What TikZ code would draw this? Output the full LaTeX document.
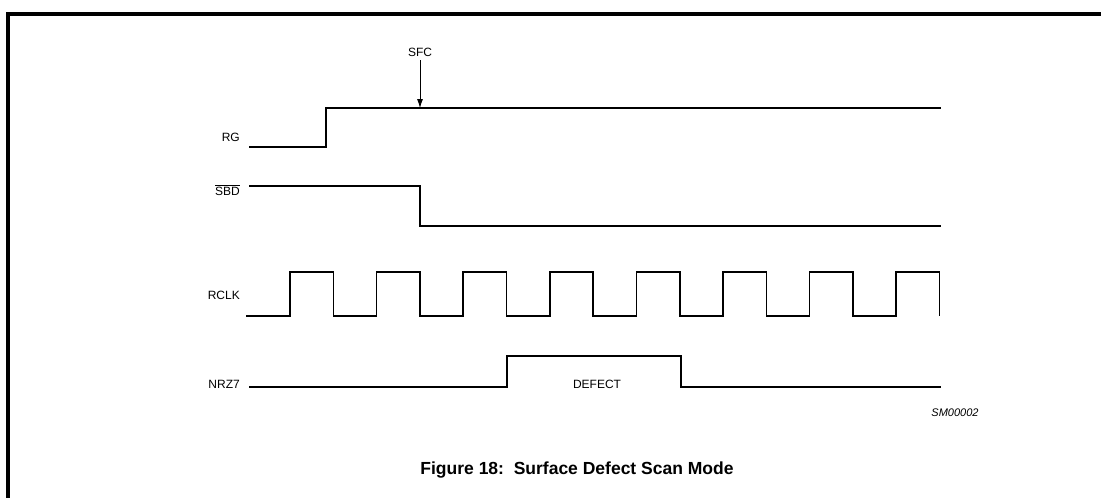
\documentclass[tikz,border=0pt]{standalone}
\usepackage{fontspec}
\setmainfont{Liberation Sans}
\usetikzlibrary{arrows.meta}

\begin{document}
\begin{tikzpicture}[x=1pt,y=-1pt,
		signal/.style={line width=1.6pt},
		siglabel/.style={anchor=east,font=\fontsize{12}{14}\selectfont,inner sep=0pt}]
		\useasboundingbox (0,0) rectangle (1101,498);
		%frame
		\draw[line width=4pt] (8,498) -- (8,14) -- (1101,14);
		%labels
		\node[siglabel] (rg) at (240,137) {RG};
		\node[siglabel] (sbd) at (240,190) {$\overline{\mbox{SBD}}$};
		\node[siglabel] (rclk) at (240,295) {RCLK};
		\node[siglabel] (nrz) at (240,384) {NRZ7};
		%RG
		\draw[signal] (249,147) -- (326,147) -- (326,108) -- (941,108);
		%SFC marker
		\node[font=\fontsize{12}{14}\selectfont,inner sep=0pt] (sfc) at (420,52) {SFC};
		\coordinate (sfcpt) at (420,108);
		\draw[line width=0.8pt,-{Latex[length=9pt,width=6pt]}] ([yshift=-4pt]sfc.south) -- (sfcpt);
		%SBD
		\draw[signal] (249,186) -- (420,186) -- (420,226) -- (941,226);
		%RCLK
		\draw[signal] (246,316) \foreach \i in {0,...,7}{
			-- ({290+86.6*\i},316) -- ++(0,-44) -- ++(43.4,0) -- ++(0,44)
		};
		%NRZ7
		\draw[signal] (249,387) -- (507,387) -- (507,356) -- (681,356) -- (681,387) -- (941,387);
		\node[font=\fontsize{12}{14}\selectfont,inner sep=0pt] (defect) at (597,384) {DEFECT};
		%id
		\node[font=\fontsize{11}{13}\selectfont\itshape,inner sep=0pt] (smid) at (955,413) {SM00002};
		%caption
		\node[font=\fontsize{17.5}{20}\selectfont\bfseries,inner sep=0pt] (caption) at (577,470) {Figure 18:\ \ Surface Defect Scan Mode};
	\end{tikzpicture}
\end{document}
